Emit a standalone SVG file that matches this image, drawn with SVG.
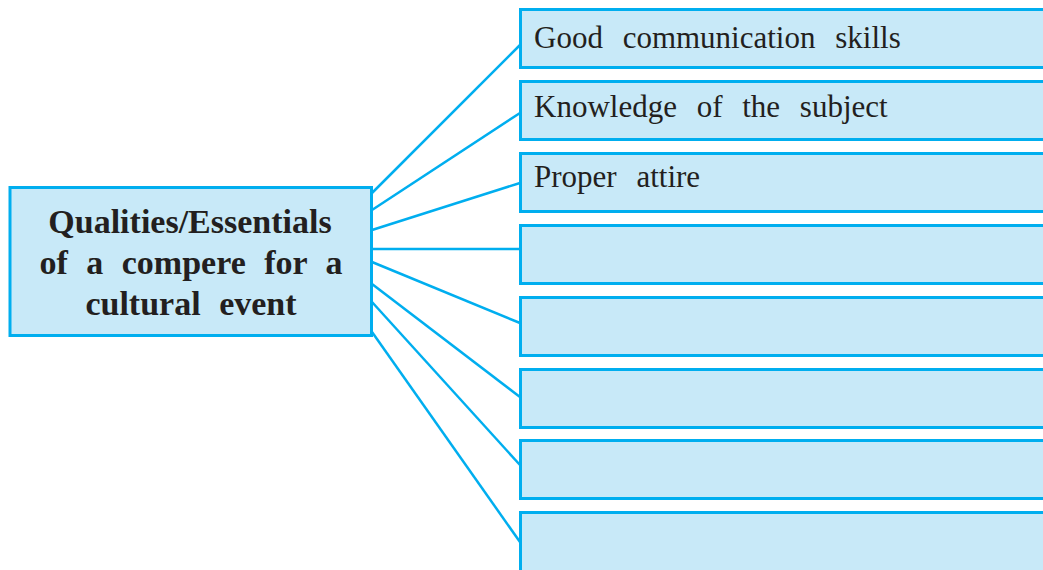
<svg xmlns="http://www.w3.org/2000/svg" width="1043" height="570" viewBox="0 0 1043 570">
<style>
.box{fill:#C8E9F8;stroke:#00AEEF;stroke-width:3}
.con line{stroke:#00AEEF;stroke-width:2.5}
.lbl{font-size:31px;fill:#231F20;word-spacing:12px}
.main{font-size:34px;font-weight:bold;fill:#231F20;text-anchor:middle;word-spacing:10px}
</style>
<rect width="1043" height="570" fill="#ffffff"/>
<g id="connectors" class="con">
<line x1="372" y1="193" x2="520" y2="45"/>
<line x1="372" y1="210" x2="520" y2="113"/>
<line x1="372" y1="230" x2="520" y2="183"/>
<line x1="372" y1="249" x2="520" y2="249"/>
<line x1="372" y1="262" x2="520" y2="323"/>
<line x1="372" y1="284" x2="520" y2="397"/>
<line x1="372" y1="302" x2="520" y2="465"/>
<line x1="372" y1="332" x2="520" y2="542"/>
</g>
<g id="center" font-family="'Liberation Serif', 'Times New Roman', Times, serif">
<rect class="box" x="10" y="187.5" width="361.5" height="148"/>
<text class="main" x="190" y="233" word-spacing="0">Qualities/Essentials</text>
<text class="main" x="191" y="274">of a compere for a</text>
<text class="main" x="191" y="315">cultural event</text>
</g>
<g font-family="'Liberation Serif', 'Times New Roman', Times, serif">
<g id="n1"><rect class="box" x="520.5" y="9.5" width="600" height="58"/><text class="lbl" x="534" y="48">Good communication skills</text></g>
<g id="n2"><rect class="box" x="520.5" y="81.5" width="600" height="58"/><text class="lbl" x="534" y="117">Knowledge of the subject</text></g>
<g id="n3"><rect class="box" x="520.5" y="153.5" width="600" height="58"/><text class="lbl" x="534" y="187">Proper attire</text></g>
</g>
<g id="n4"><rect class="box" x="520.5" y="225.5" width="600" height="58"/></g>
<g id="n5"><rect class="box" x="520.5" y="297.5" width="600" height="58"/></g>
<g id="n6"><rect class="box" x="520.5" y="369.5" width="600" height="58"/></g>
<g id="n7"><rect class="box" x="520.5" y="440.5" width="600" height="58"/></g>
<g id="n8"><rect class="box" x="520.5" y="512.5" width="600" height="80"/></g>
</svg>
